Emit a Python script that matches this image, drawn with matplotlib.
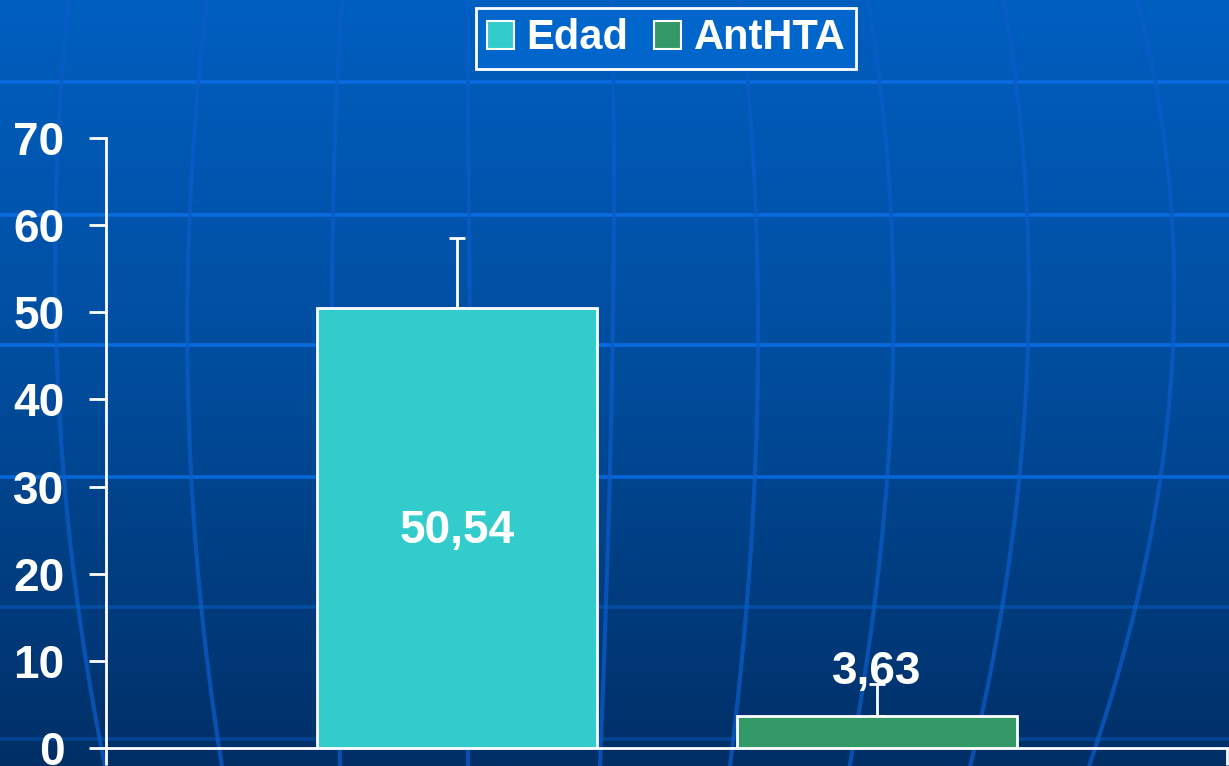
import numpy as np
import matplotlib
matplotlib.use("Agg")
import matplotlib.pyplot as plt
from matplotlib.patches import Patch
from matplotlib.colors import LinearSegmentedColormap

# ---- data ----
series = ["Edad", "AntHTA"]
values = [50.54, 3.63]
errors = [8.0, 3.7]
value_labels = ["50,54", "3,63"]
colors = ["#33CCCC", "#339966"]
yticks = [0, 10, 20, 30, 40, 50, 60, 70]

W, H = 1229, 766
fig = plt.figure(figsize=(W / 100, H / 100), dpi=100)

# ---- background ----
bg = fig.add_axes([0, 0, 1, 1])
bg.set_xlim(0, W)
bg.set_ylim(H, 0)
bg.axis("off")
cmap = LinearSegmentedColormap.from_list("bg", ["#005FC0", "#004C9C", "#002F66"])
grad = np.linspace(0, 1, 256).reshape(-1, 1)
bg.imshow(grad, cmap=cmap, extent=[0, W, H, 0], aspect="auto", zorder=0)

for yy, a in [(82, 1.0), (215, 1.0), (345, 1.0), (477, 0.9), (607, 0.4), (739, 0.35)]:
    bg.plot([0, W], [yy, yy], color="#0A6BE0", lw=2.6, alpha=a, zorder=1)

meridians = [
    [(68, 0), (58, 140), (55, 280), (62, 450), (77, 600), (105, 766)],
    [(207, 0), (194, 140), (187, 300), (192, 477), (200, 600), (222, 766)],
    [(342, 0), (335, 140), (332, 300), (334, 500), (340, 766)],
    [(467, 0), (468, 140), (470, 300), (470, 500), (468, 766)],
    [(612, 0), (614, 140), (613, 300), (610, 477), (606, 600), (600, 766)],
    [(740, 0), (752, 140), (758, 300), (755, 477), (747, 600), (730, 766)],
    [(868, 0), (885, 140), (894, 300), (888, 477), (874, 600), (850, 766)],
    [(1003, 0), (1023, 140), (1028, 300), (1019, 477), (1003, 607), (970, 766)],
    [(1137, 0), (1165, 140), (1173, 300), (1162, 477), (1135, 607), (1100, 730), (1090, 766)],
]
yy = np.linspace(0, H, 300)
for pts in meridians:
    xs = np.array([p[0] for p in pts], float)
    ys = np.array([p[1] for p in pts], float)
    coef = np.polyfit(ys, xs, 3)
    xx = np.polyval(coef, yy)
    bg.plot(xx, yy, color="#0A5CC8", lw=3, alpha=0.75, zorder=1)

# ---- main axes ----
left_px, right_px, top_px, bottom_px = 106, 1227, 138, 748
ax = fig.add_axes([left_px / W, (H - bottom_px) / H,
                   (right_px - left_px) / W, (bottom_px - top_px) / H])
ax.patch.set_alpha(0)

x = np.arange(len(series))
width = 280 / 420
bars = ax.bar(x, values, width=width, color=colors, edgecolor="white",
              linewidth=2, zorder=3)
ax.errorbar(x, values, yerr=[[0] * len(errors), errors], fmt="none",
            ecolor="white", elinewidth=2, capsize=6, capthick=2, zorder=2)

ax.set_xlim((left_px - 457) / 420, (right_px - 457) / 420)
ax.set_ylim(0, 70)
ax.set_yticks(yticks)
ax.set_xticks([(left_px - 457) / 420 + 0.0005, (right_px - 457) / 420 - 0.0005])
ax.set_xticklabels([])

for s in ["top", "right"]:
    ax.spines[s].set_visible(False)
for s in ["left", "bottom"]:
    ax.spines[s].set_color("white")
    ax.spines[s].set_linewidth(2)

ax.tick_params(axis="y", colors="white", length=12, width=2, pad=18,
               labelsize=33)
ax.tick_params(axis="x", colors="white", length=12, width=2)
for lab in ax.get_yticklabels():
    lab.set_fontweight("bold")
    lab.set_fontfamily("Liberation Sans")

# value labels
ax.text(x[0], values[0] / 2 - 0.4, value_labels[0], color="white", fontsize=33,
        fontweight="bold", family="Liberation Sans", ha="center", va="center",
        zorder=5)
ax.text(x[1], values[1] + errors[1] + 1.4, value_labels[1], color="white",
        fontsize=33, fontweight="bold", family="Liberation Sans",
        ha="center", va="center", zorder=5)

# legend
handles = [Patch(facecolor=c, edgecolor="white", linewidth=1.5) for c in colors]
leg = fig.legend(handles, series, loc="upper center",
                 bbox_to_anchor=(666 / W, 1 - 8 / H), ncol=2,
                 frameon=True, fancybox=False, framealpha=1,
                 facecolor="#0066CC", edgecolor="white",
                 prop={"family": "Liberation Sans", "weight": "bold", "size": 30},
                 handlelength=0.66, handleheight=0.66, handletextpad=0.3,
                 columnspacing=0.6, borderpad=0.25, borderaxespad=0)
leg.get_frame().set_linewidth(2)
for t in leg.get_texts():
    t.set_color("white")

fig.savefig("out.png", dpi=100)
